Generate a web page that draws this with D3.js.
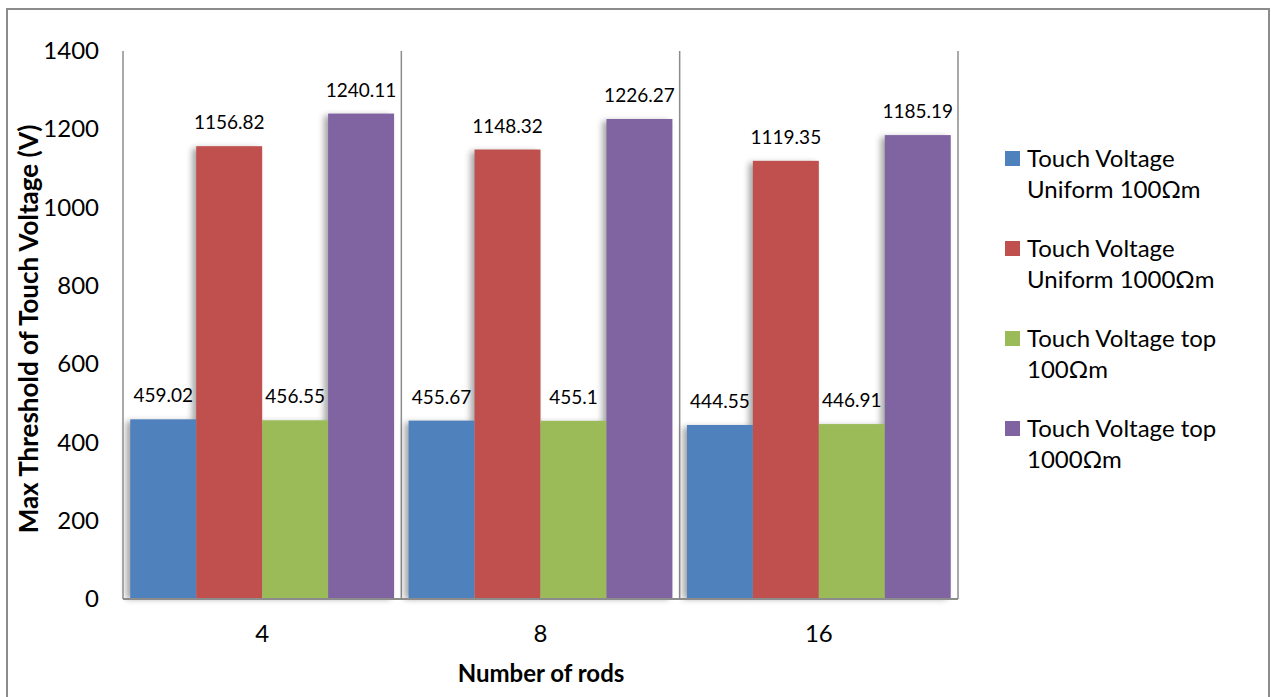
<!DOCTYPE html>
<html><head><meta charset="utf-8">
<script src="https://cdn.jsdelivr.net/npm/d3@7"></script>
<style>
html,body{margin:0;padding:0;background:#fff;}
svg{display:block;}
text{font-family:Lato,"Open Sans",sans-serif;fill:#000;}
</style></head>
<body>
<svg id="chart" width="1271" height="697"></svg>
<script>
const categories = ["4", "8", "16"];
const seriesNames = [
  ["Touch Voltage", "Uniform 100Ωm"],
  ["Touch Voltage", "Uniform 1000Ωm"],
  ["Touch Voltage top", "100Ωm"],
  ["Touch Voltage top", "1000Ωm"]
];
const uniform100 = [459.02, 455.67, 444.55];
const uniform1000 = [1156.82, 1148.32, 1119.35];
const top100 = [456.55, 455.1, 446.91];
const top1000 = [1240.11, 1226.27, 1185.19];
const yTicks = [0, 200, 400, 600, 800, 1000, 1200, 1400];
const colors = ["#4F81BD", "#C0504D", "#9BBB59", "#8064A2"];

const seriesValues = [uniform100, uniform1000, top100, top1000];
const rows = categories.map((c, i) => ({cat: c, vals: seriesValues.map(s => s[i])}));

const svg = d3.select("#chart");
const defs = svg.append("defs");
defs.append("filter").attr("id", "blur").attr("x", "-50%").attr("y", "-10%").attr("width", "200%").attr("height", "120%")
  .append("feGaussianBlur").attr("stdDeviation", 3);

// outer border
svg.append("rect").attr("x", 7).attr("y", 9).attr("width", 1262).attr("height", 700)
  .attr("fill", "#fff").attr("stroke", "#8c8c8c").attr("stroke-width", 2);

const plot = {left: 123, right: 958, top: 51, bottom: 599};
const x0 = d3.scaleBand().domain(categories).range([plot.left, plot.right]).padding(0);
const x1 = d3.scaleBand().domain(d3.range(4)).range([0, x0.bandwidth()]).paddingInner(0).paddingOuter(0.11);
const y = d3.scaleLinear().domain([0, 1400]).range([plot.bottom, plot.top]);

// category boundary lines (gridlines) with a soft shadow
const bounds = categories.map(c => x0(c) + x0.bandwidth());
const g = svg.append("g");
g.selectAll(".vshadow").data(bounds).join("line")
  .attr("x1", d => d - 3).attr("x2", d => d - 3).attr("y1", plot.top).attr("y2", plot.bottom)
  .attr("stroke", "#c8c8c8").attr("stroke-width", 2).attr("filter", "url(#blur)");
g.selectAll(".vline").data(bounds).join("line")
  .attr("x1", d => d).attr("x2", d => d).attr("y1", plot.top).attr("y2", plot.bottom)
  .attr("stroke", "#8c8c8c").attr("stroke-width", 1.5);

// bar shadows
const catG = svg.selectAll(".cat").data(rows).join("g").attr("transform", d => `translate(${x0(d.cat)},0)`);
catG.selectAll(".shadow").data(d => d.vals).join("rect")
  .attr("x", (d, i) => x1(i) - 4).attr("y", d => y(d) + 2)
  .attr("width", x1.bandwidth()).attr("height", d => y(0) - y(d) - 2)
  .attr("fill", "#000").attr("opacity", 0.35).attr("filter", "url(#blur)");
// bars
catG.selectAll(".bar").data(d => d.vals).join("rect")
  .attr("x", (d, i) => x1(i)).attr("y", d => y(d))
  .attr("width", x1.bandwidth()).attr("height", d => y(0) - y(d))
  .attr("fill", (d, i) => colors[i]);

// data labels
catG.selectAll(".lbl").data(d => d.vals).join("text")
  .attr("x", (d, i) => x1(i) + x1.bandwidth() / 2).attr("y", d => y(d) - 17)
  .attr("text-anchor", "middle").attr("font-size", 19).text(d => d3.format("")(d));

// axes lines
svg.append("line").attr("x1", plot.left).attr("x2", plot.right).attr("y1", plot.bottom + 2).attr("y2", plot.bottom + 2)
  .attr("stroke", "#d0d0d0").attr("stroke-width", 3).attr("filter", "url(#blur)");
svg.append("line").attr("x1", plot.left).attr("x2", plot.right).attr("y1", plot.bottom).attr("y2", plot.bottom)
  .attr("stroke", "#8c8c8c").attr("stroke-width", 2);
svg.append("line").attr("x1", plot.left).attr("x2", plot.left).attr("y1", plot.top).attr("y2", plot.bottom)
  .attr("stroke", "#8c8c8c").attr("stroke-width", 1.5);

// y axis ticks
const yAxis = d3.axisLeft(y).tickValues(yTicks).tickSize(0).tickPadding(0).tickFormat(d3.format("d"));
const ya = svg.append("g").attr("transform", `translate(${99},0)`).call(yAxis);
ya.select(".domain").remove();
ya.selectAll("text").attr("font-size", 24).attr("font-family", "Lato").attr("fill", "#000");

// x axis labels
const xAxis = d3.axisBottom(x0).tickSize(0).tickPadding(0);
const xa = svg.append("g").attr("transform", `translate(0,${625})`).call(xAxis);
xa.select(".domain").remove();
xa.selectAll("text").attr("font-size", 24).attr("font-family", "Lato").attr("fill", "#000");

// axis titles
svg.append("text").attr("transform", "translate(38,329) rotate(-90)").attr("text-anchor", "middle")
  .attr("font-size", 26).attr("font-weight", "bold").text("Max Threshold of Touch Voltage (V)");
svg.append("text").attr("x", 541).attr("y", 682).attr("text-anchor", "middle")
  .attr("font-size", 24).attr("font-weight", "bold").text("Number of rods");

// legend
const leg = svg.selectAll(".leg").data(seriesNames).join("g")
  .attr("transform", (d, i) => `translate(1005,${151 + i * 90})`);
leg.append("rect").attr("width", 15).attr("height", 15).attr("fill", (d, i) => colors[i]);
leg.append("text").attr("x", 22).attr("y", 16).attr("font-size", 24)
  .selectAll("tspan").data(d => d).join("tspan")
  .attr("x", 22).attr("dy", (d, i) => i === 0 ? 0 : 31).text(d => d);
</script>
</body></html>
